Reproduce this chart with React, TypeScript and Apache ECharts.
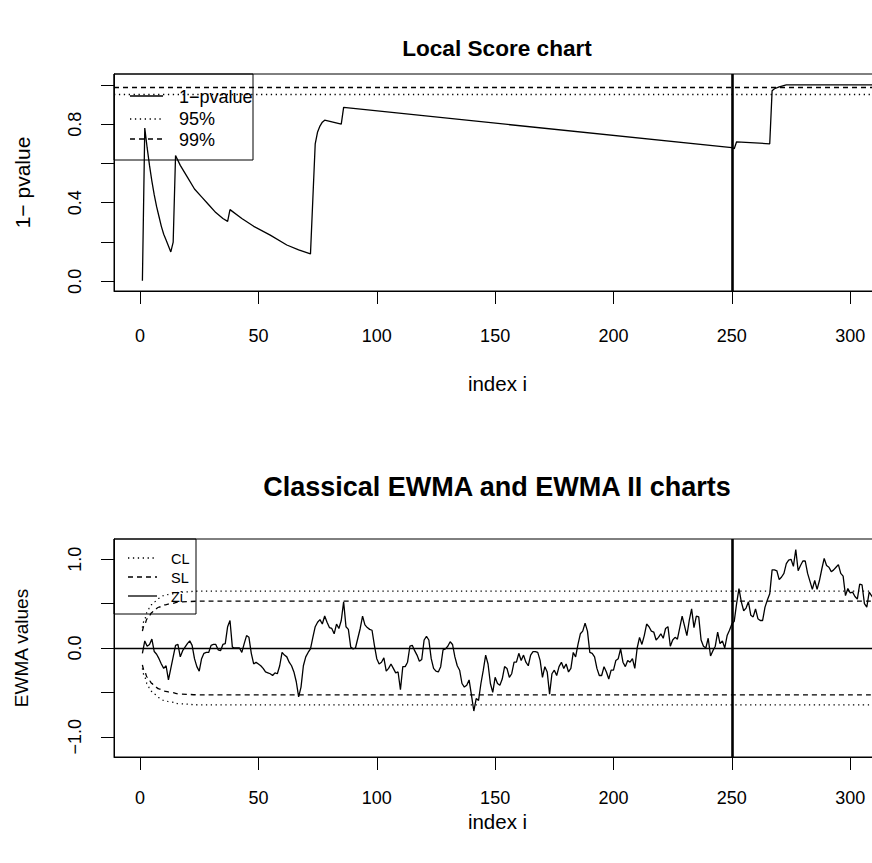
import React, { useEffect, useRef } from "react";
import * as echarts from "echarts";

// ---------- data ----------
const X_TICKS = [0, 50, 100, 150, 200, 250, 300];
const TOP_Y_TICKS = [0, 0.2, 0.4, 0.6, 0.8, 1.0];
const TOP_Y_LABELS = [0, 0.4, 0.8];
const BOT_Y_TICKS = [-1, -0.5, 0, 0.5, 1];
const BOT_Y_LABELS = [-1, 0, 1];

const CHANGE_POINT = 250;
const LEVEL_95 = 0.95;
const LEVEL_99 = 0.99;

// 1 - pvalue (local score chart)
const pvalIndex = [1, 2, 3, 4, 5, 6, 7, 8, 9, 10, 11, 12, 13, 14, 15, 17, 20, 23, 26, 29, 32, 35, 37, 38, 43, 48, 55, 62, 67, 72, 73, 74, 75, 76, 77, 78, 85, 86, 250, 251, 252, 266, 267, 268, 270, 273, 313];
const pvalValue = [0.003, 0.78, 0.68, 0.59, 0.51, 0.44, 0.38, 0.33, 0.28, 0.24, 0.21, 0.18, 0.15, 0.2, 0.64, 0.59, 0.53, 0.47, 0.43, 0.39, 0.35, 0.32, 0.305, 0.365, 0.32, 0.28, 0.235, 0.185, 0.16, 0.14, 0.42, 0.7, 0.76, 0.79, 0.81, 0.82, 0.8, 0.885, 0.68, 0.675, 0.71, 0.7, 0.97, 0.98, 0.99, 1.0, 1.0];

// EWMA statistic Zi
const ziIndex = [
  1, 2, 3, 4, 5, 6, 7, 8, 9, 10, 11, 12, 13, 14, 15, 16, 17, 18, 19, 20,
  21, 22, 23, 24, 25, 26, 27, 28, 29, 30, 31, 32, 33, 34, 35, 36, 37, 38, 39, 40,
  41, 42, 43, 44, 45, 46, 47, 48, 49, 50, 51, 52, 53, 54, 55, 56, 57, 58, 59, 60,
  61, 62, 63, 64, 65, 66, 67, 68, 69, 70, 71, 72, 73, 74, 75, 76, 77, 78, 79, 80,
  81, 82, 83, 84, 85, 86, 87, 88, 89, 90, 91, 92, 93, 94, 95, 96, 97, 98, 99, 100,
  101, 102, 103, 104, 105, 106, 107, 108, 109, 110, 111, 112, 113, 114, 115, 116, 117, 118, 119, 120,
  121, 122, 123, 124, 125, 126, 127, 128, 129, 130, 131, 132, 133, 134, 135, 136, 137, 138, 139, 140,
  141, 142, 143, 144, 145, 146, 147, 148, 149, 150, 151, 152, 153, 154, 155, 156, 157, 158, 159, 160,
  161, 162, 163, 164, 165, 166, 167, 168, 169, 170, 171, 172, 173, 174, 175, 176, 177, 178, 179, 180,
  181, 182, 183, 184, 185, 186, 187, 188, 189, 190, 191, 192, 193, 194, 195, 196, 197, 198, 199, 200,
  201, 202, 203, 204, 205, 206, 207, 208, 209, 210, 211, 212, 213, 214, 215, 216, 217, 218, 219, 220,
  221, 222, 223, 224, 225, 226, 227, 228, 229, 230, 231, 232, 233, 234, 235, 236, 237, 238, 239, 240,
  241, 242, 243, 244, 245, 246, 247, 248, 249, 250, 251, 252, 253, 254, 255, 256, 257, 258, 259, 260,
  261, 262, 263, 264, 265, 266, 267, 268, 269, 270, 271, 272, 273, 274, 275, 276, 277, 278, 279, 280,
  281, 282, 283, 284, 285, 286, 287, 288, 289, 290, 291, 292, 293, 294, 295, 296, 297, 298, 299, 300,
  301, 302, 303, 304, 305, 306, 307, 308, 309, 310,
];
const ziValue = [
  -0.06, 0.08, 0.02, 0.04, 0.1, -0.04, -0.07, -0.12, -0.18, -0.23, -0.2, -0.36, -0.23, -0.1, 0.03, 0.04, -0.1, -0.03, 0.01, 0.05,
  0.08, 0.03, -0.12, -0.21, -0.26, -0.12, -0.06, -0.05, -0.05, 0.03, 0.04, 0.04, -0.02, -0.03, 0.04, 0.05, 0.24, 0.31, 0.01, 0.0,
  0.0, 0.0, -0.05, 0.05, 0.14, 0.12, -0.06, -0.18, -0.16, -0.18, -0.2, -0.23, -0.27, -0.28, -0.29, -0.31, -0.28, -0.29, -0.2, -0.05,
  -0.08, -0.1, -0.16, -0.2, -0.27, -0.38, -0.55, -0.44, -0.2, -0.1, -0.05, -0.01, 0.12, 0.24, 0.29, 0.32, 0.27, 0.36, 0.29, 0.23,
  0.22, 0.16, 0.27, 0.22, 0.31, 0.52, 0.24, 0.21, 0.01, -0.01, 0.0, 0.11, 0.22, 0.36, 0.26, 0.23, 0.21, 0.2, 0.03, -0.12,
  -0.18, -0.16, -0.11, -0.26, -0.23, -0.18, -0.23, -0.28, -0.27, -0.47, -0.21, -0.21, -0.16, 0.02, 0.03, -0.03, -0.08, -0.15, -0.13, 0.09,
  0.13, 0.09, -0.12, -0.23, -0.26, -0.27, -0.21, -0.02, -0.01, 0.02, 0.07, 0.04, -0.1, -0.2, -0.25, -0.4, -0.44, -0.42, -0.36, -0.53,
  -0.71, -0.57, -0.59, -0.4, -0.25, -0.08, -0.18, -0.4, -0.5, -0.33, -0.4, -0.42, -0.35, -0.21, -0.23, -0.33, -0.29, -0.16, -0.16, -0.06,
  -0.14, -0.08, -0.16, -0.2, -0.08, -0.04, -0.04, -0.05, -0.14, -0.33, -0.21, -0.27, -0.52, -0.29, -0.25, -0.31, -0.21, -0.16, -0.23, -0.18,
  -0.27, -0.23, -0.05, -0.1, 0.04, 0.16, 0.19, 0.28, 0.19, -0.05, -0.06, -0.1, -0.23, -0.31, -0.31, -0.21, -0.27, -0.35, -0.25, -0.25,
  -0.14, -0.12, -0.01, -0.16, -0.21, -0.14, -0.16, -0.12, -0.23, 0.0, 0.12, 0.04, 0.14, 0.27, 0.24, 0.19, 0.18, 0.09, 0.12, 0.16,
  0.11, 0.22, 0.24, 0.02, 0.09, 0.12, 0.1, 0.23, 0.36, 0.25, 0.14, 0.31, 0.44, 0.23, 0.36, 0.35, 0.09, 0.02, 0.0, 0.11,
  -0.09, -0.03, 0.02, 0.18, 0.05, 0.08, 0.0, 0.14, 0.2, 0.27, 0.3, 0.5, 0.67, 0.52, 0.42, 0.45, 0.52, 0.37, 0.35, 0.44,
  0.33, 0.31, 0.31, 0.46, 0.54, 0.61, 0.88, 0.88, 0.87, 0.77, 0.8, 0.84, 0.95, 0.99, 1.0, 0.92, 1.11, 0.87, 0.93, 0.98,
  0.98, 0.84, 0.75, 0.66, 0.76, 0.66, 0.76, 0.89, 1.01, 0.93, 0.91, 0.86, 0.88, 0.91, 0.94, 0.84, 0.81, 0.59, 0.67, 0.62,
  0.63, 0.58, 0.55, 0.72, 0.71, 0.5, 0.46, 0.63, 0.59, 0.55,
];

// control limits (CL dotted, SL dashed)
const limitIndex = [1, 2, 3, 4, 5, 6, 8, 10, 13, 17, 25, 313];
const clUpper = [0.23, 0.33, 0.4, 0.45, 0.49, 0.52, 0.56, 0.59, 0.61, 0.63, 0.64, 0.64];
const clLower = [-0.23, -0.33, -0.4, -0.45, -0.49, -0.52, -0.56, -0.59, -0.61, -0.63, -0.64, -0.64];
const slUpper = [0.19, 0.27, 0.33, 0.37, 0.4, 0.43, 0.46, 0.485, 0.5, 0.52, 0.527, 0.527];
const slLower = [-0.19, -0.27, -0.33, -0.37, -0.4, -0.43, -0.46, -0.485, -0.5, -0.52, -0.527, -0.527];

const pairs = (xs: number[], ys: number[]) => xs.map((x, i) => [x, ys[i]]);

// ---------- styles ----------
const FONT = "'Liberation Sans', Arial, Helvetica, sans-serif";
const INK = "#000";
const LW = 1.3;
const DOTTED = [1.3, 3.6];
const DASHED = [5, 4];
const fmtNum = (v: number) => (v < 0 ? "\u2212" : "") + Math.abs(v).toFixed(1);

export default function App() {
  const ref = useRef<HTMLDivElement>(null);

  useEffect(() => {
    if (!ref.current) return;
    const chart = echarts.init(ref.current, undefined, { renderer: "svg" });

    const xAxisBase = (gridIndex: number, labelMargin: number, nameGap: number) => ({
      type: "value",
      gridIndex,
      min: -11,
      max: 313,
      name: "index i",
      nameLocation: "middle",
      nameGap,
      nameTextStyle: { fontSize: 20.5, color: INK, fontFamily: FONT },
      axisLine: { show: true, onZero: false, lineStyle: { color: INK, width: 1 } },
      axisTick: { show: true, inside: false, length: 13, customValues: X_TICKS, lineStyle: { color: INK, width: 1 } },
      axisLabel: { show: true, margin: labelMargin, customValues: X_TICKS, fontSize: 18, color: INK, fontFamily: FONT },
      splitLine: { show: false },
    });

    const yAxisBase = (
      gridIndex: number,
      min: number,
      max: number,
      ticks: number[],
      labels: number[],
      name: string,
      nameSize: number,
      nameGap: number
    ) => ({
      type: "value",
      gridIndex,
      min,
      max,
      name,
      nameLocation: "middle",
      nameRotate: 90,
      nameGap,
      nameTextStyle: { fontSize: nameSize, color: INK, fontFamily: FONT },
      axisLine: { show: true, onZero: false, lineStyle: { color: INK, width: 1 } },
      axisTick: { show: true, inside: false, length: 13, customValues: ticks, lineStyle: { color: INK, width: 1 } },
      axisLabel: {
        show: true,
        rotate: 90,
        margin: 30,
        customValues: labels,
        formatter: (v: number) => fmtNum(v),
        fontSize: 18,
        color: INK,
        fontFamily: FONT,
      },
      splitLine: { show: false },
    });

    const lineSeries = (xi: number, data: number[][], type: any, extra: any = {}) => ({
      type: "line",
      xAxisIndex: xi,
      yAxisIndex: xi,
      data,
      symbol: "none",
      showSymbol: false,
      silent: true,
      clip: true,
      lineStyle: { color: INK, width: LW, type },
      ...extra,
    });

    const legendLine = (x1: number, x2: number, y: number, dash: any) => ({
      type: "line",
      shape: { x1, y1: y, x2, y2: y },
      style: { stroke: INK, lineWidth: LW, lineDash: dash },
      silent: true,
    });
    const legendText = (x: number, y: number, text: string, size: number) => ({
      type: "text",
      x,
      y,
      style: { text, fill: INK, font: `${size}px ${FONT}`, align: "left", verticalAlign: "middle" },
      silent: true,
    });

    const option: any = {
      animation: false,
      backgroundColor: "#fff",
      textStyle: { fontFamily: FONT, color: INK },
      grid: [
        { left: 114, right: -9, top: 74, height: 217, show: true, borderColor: INK, borderWidth: 1, backgroundColor: "transparent", outerBoundsMode: "none" },
        { left: 114, right: -9, top: 539, height: 218, show: true, borderColor: INK, borderWidth: 1, backgroundColor: "transparent", outerBoundsMode: "none" },
      ],
      xAxis: [xAxisBase(0, 36, 82), xAxisBase(1, 32, 54)],
      yAxis: [
        yAxisBase(0, -0.049, 1.055, TOP_Y_TICKS, TOP_Y_LABELS, "1\u2212 pvalue", 21, 81),
        yAxisBase(1, -1.228, 1.228, BOT_Y_TICKS, BOT_Y_LABELS, "EWMA values", 19, 83),
      ],
      series: [
        lineSeries(0, pairs(pvalIndex, pvalValue), "solid", {
          markLine: {
            silent: true,
            symbol: ["none", "none"],
            label: { show: false },
            data: [
              { yAxis: LEVEL_95, lineStyle: { color: INK, width: LW, type: DOTTED } },
              { yAxis: LEVEL_99, lineStyle: { color: INK, width: LW, type: DASHED } },
              { xAxis: CHANGE_POINT, lineStyle: { color: INK, width: 2.6, type: "solid" } },
            ],
          },
        }),
        lineSeries(1, pairs(limitIndex, clUpper), DOTTED, { smooth: 0.4, smoothMonotone: "x" }),
        lineSeries(1, pairs(limitIndex, clLower), DOTTED, { smooth: 0.4, smoothMonotone: "x" }),
        lineSeries(1, pairs(limitIndex, slUpper), DASHED, { smooth: 0.4, smoothMonotone: "x" }),
        lineSeries(1, pairs(limitIndex, slLower), DASHED, { smooth: 0.4, smoothMonotone: "x" }),
        lineSeries(1, pairs(ziIndex, ziValue), "solid", {
          markLine: {
            silent: true,
            symbol: ["none", "none"],
            label: { show: false },
            data: [
              { yAxis: 0, lineStyle: { color: INK, width: LW, type: "solid" } },
              { xAxis: CHANGE_POINT, lineStyle: { color: INK, width: 2.6, type: "solid" } },
            ],
          },
        }),
      ],
      graphic: [
        {
          type: "text",
          x: 497,
          y: 48,
          style: { text: "Local Score chart", fill: INK, font: `bold 22.6px ${FONT}`, align: "center", verticalAlign: "middle" },
          silent: true,
        },
        {
          type: "text",
          x: 497,
          y: 487,
          style: { text: "Classical EWMA and EWMA II charts", fill: INK, font: `bold 27px ${FONT}`, align: "center", verticalAlign: "middle" },
          silent: true,
        },
        // top legend
        { type: "rect", shape: { x: 114, y: 74, width: 139, height: 86 }, style: { fill: "none", stroke: INK, lineWidth: 1 }, silent: true },
        legendLine(130, 163, 96, null),
        legendLine(130, 163, 119, DOTTED),
        legendLine(130, 163, 139, DASHED),
        legendText(179, 97, "1\u2212pvalue", 18),
        legendText(179, 119, "95%", 18),
        legendText(179, 140, "99%", 18),
        // bottom legend
        { type: "rect", shape: { x: 114, y: 539, width: 82, height: 75 }, style: { fill: "none", stroke: INK, lineWidth: 1 }, silent: true },
        legendLine(128, 157, 558, DOTTED),
        legendLine(128, 157, 577, DASHED),
        legendLine(128, 157, 596, null),
        legendText(171, 559, "CL", 14.5),
        legendText(171, 578, "SL", 14.5),
        legendText(171, 597, "Zi", 14.5),
      ],
    };

    chart.setOption(option);
    return () => chart.dispose();
  }, []);

  return (
    <div
      ref={ref}
      style={{ position: "fixed", left: 0, top: 0, width: 872, height: 863, background: "#fff" }}
    />
  );
}
